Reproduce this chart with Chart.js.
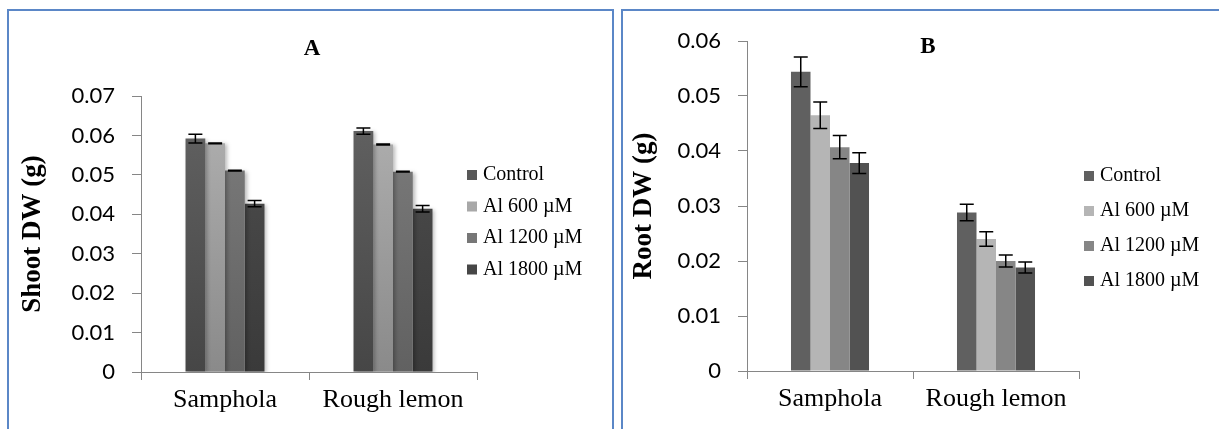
<!DOCTYPE html>
<html>
<head>
<meta charset="utf-8">
<script src="https://cdn.jsdelivr.net/npm/chart.js@4.4.1/dist/chart.umd.min.js"></script>
<style>
body { margin: 0; background: #fff; width: 1219px; height: 429px; overflow: hidden; position: relative; }
.panel { position: absolute; border: 2px solid #5b87c7; box-sizing: border-box; }
#panelA { left: 7px; top: 9px; width: 607px; height: 460px; }
#panelB { left: 621px; top: 9px; width: 640px; height: 460px; }
canvas { position: absolute; top: 0; }
#chartA { left: 0; }
#chartB { left: 614px; }
</style>
</head>
<body>
<div class="panel" id="panelA"></div>
<div class="panel" id="panelB"></div>
<canvas id="chartA" width="612" height="429"></canvas>
<canvas id="chartB" width="605" height="429"></canvas>
<script>
// categories and series
const categories = ['Samphola', 'Rough lemon'];
const seriesLabels = ['Control', 'Al 600 µM', 'Al 1200 µM', 'Al 1800 µM'];

// A - shoot dry weight (g)
const shootControl = [0.0592, 0.0611];
const shootAl600 = [0.0580, 0.0577];
const shootAl1200 = [0.0511, 0.0508];
const shootAl1800 = [0.0427, 0.0414];
const shootControlErr = [0.0011, 0.0008];
const shootAl600Err = [0.0001, 0.0001];
const shootAl1200Err = [0.0001, 0.0001];
const shootAl1800Err = [0.0008, 0.0008];
const shootTicks = [0, 0.01, 0.02, 0.03, 0.04, 0.05, 0.06, 0.07];

// B - root dry weight (g)
const rootControl = [0.0544, 0.0288];
const rootAl600 = [0.0465, 0.0240];
const rootAl1200 = [0.0407, 0.0200];
const rootAl1800 = [0.0378, 0.0188];
const rootControlErr = [0.0027, 0.0015];
const rootAl600Err = [0.0024, 0.0013];
const rootAl1200Err = [0.0021, 0.0011];
const rootAl1800Err = [0.0019, 0.0010];
const rootTicks = [0, 0.01, 0.02, 0.03, 0.04, 0.05, 0.06];

const serif = "'Liberation Serif', 'Times New Roman', serif";
const sans = "Lato, 'Liberation Sans', sans-serif";
const axisGray = '#868686';

// vertical shading for the bars of panel A
function shade(top, bottom) {
	return function (c) {
		const area = c.chart.chartArea;
		if (!area) return bottom;
		const g = c.chart.ctx.createLinearGradient(0, area.bottom, 0, area.top);
		g.addColorStop(0, bottom);
		g.addColorStop(1, top);
		return g;
	};
}

// error bars (plus optional soft shadow under the bars)
const errorBars = {
	id: 'errorBars',
	beforeDatasetsDraw(chart, args, opts) {
		const ctx = chart.ctx;
		ctx.save();
		if (opts.shadow) {
			ctx.shadowColor = 'rgba(0,0,0,0.28)';
			ctx.shadowBlur = 4;
			ctx.shadowOffsetX = 2;
			ctx.shadowOffsetY = 1;
		}
	},
	afterDatasetsDraw(chart, args, opts) {
		const ctx = chart.ctx;
		ctx.restore();
		const y = chart.scales.y;
		ctx.save();
		ctx.strokeStyle = '#000';
		ctx.lineWidth = 1.5;
		chart.data.datasets.forEach((ds, i) => {
			const meta = chart.getDatasetMeta(i);
			meta.data.forEach((bar, j) => {
				const v = ds.data[j], e = ds.errors[j];
				const top = y.getPixelForValue(v + e);
				const bot = y.getPixelForValue(v - e);
				const half = opts.cap / 2;
				ctx.beginPath();
				ctx.moveTo(bar.x, top); ctx.lineTo(bar.x, bot);
				ctx.moveTo(bar.x - half, top); ctx.lineTo(bar.x + half, top);
				ctx.moveTo(bar.x - half, bot); ctx.lineTo(bar.x + half, bot);
				ctx.stroke();
			});
		});
		ctx.restore();
	}
};

// legend drawn to the right of the plot, as in the original figure
const sideLegend = {
	id: 'sideLegend',
	afterDraw(chart, args, opts) {
		const ctx = chart.ctx;
		ctx.save();
		ctx.font = '20px ' + serif;
		ctx.textBaseline = 'middle';
		chart.data.datasets.forEach((ds, i) => {
			const yy = opts.y + i * opts.gap;
			ctx.fillStyle = ds.legendColor;
			ctx.fillRect(opts.x, yy - 5, 10, 10);
			ctx.fillStyle = '#000';
			ctx.fillText(ds.label, opts.x + 16, yy);
		});
		ctx.restore();
	}
};

// panel letter
const panelTitle = {
	id: 'panelTitle',
	afterDraw(chart, args, opts) {
		const ctx = chart.ctx;
		ctx.save();
		ctx.font = 'bold 23px ' + serif;
		ctx.textAlign = 'center';
		ctx.textBaseline = 'middle';
		ctx.fillStyle = '#000';
		ctx.fillText(opts.text, opts.x, opts.y);
		ctx.restore();
	}
};

function makeChart(id, cfg) {
	return new Chart(document.getElementById(id), {
		type: 'bar',
		data: {
			labels: categories,
			datasets: cfg.datasets
		},
		options: {
			responsive: false,
			animation: false,
			layout: { padding: cfg.padding },
			datasets: { bar: { categoryPercentage: 0.47, barPercentage: 1.0, borderWidth: 0 } },
			plugins: {
				legend: { display: false },
				tooltip: { enabled: false },
				errorBars: { cap: 14, shadow: cfg.shadow },
				sideLegend: cfg.legend,
				panelTitle: cfg.title
			},
			scales: {
				x: {
					grid: { drawOnChartArea: false, drawTicks: true, tickLength: 8, color: axisGray, offset: true },
					border: { display: true, color: axisGray, width: 1 },
					ticks: { color: '#000', font: { family: serif, size: 26 }, padding: 5 },
					afterFit: s => { s.height = cfg.xHeight; }
				},
				y: {
					min: 0,
					max: cfg.ticks[cfg.ticks.length - 1],
					afterBuildTicks: s => { s.ticks = cfg.ticks.map(v => ({ value: v })); },
					grid: { drawOnChartArea: false, drawTicks: true, tickLength: 9, color: axisGray },
					border: { display: true, color: axisGray, width: 1 },
					ticks: {
						color: '#000',
						font: { family: sans, size: 22 },
						padding: 17,
						callback: v => (v === 0 ? '0' : v.toFixed(2))
					},
					title: {
						display: true,
						text: cfg.yTitle,
						color: '#000',
						font: { family: serif, size: 27, weight: 'bold', lineHeight: 1 },
						padding: { top: cfg.titlePad, bottom: 0 }
					},
					afterFit: s => { s.width = cfg.yWidth; }
				}
			}
		},
		plugins: [errorBars, sideLegend, panelTitle]
	});
}

makeChart('chartA', {
	padding: { left: 0, top: 96, right: 135, bottom: 0 },
	xHeight: 57,
	yWidth: 141,
	titlePad: 20,
	ticks: shootTicks,
	yTitle: 'Shoot DW (g)',
	shadow: true,
	legend: { x: 467, y: 175, gap: 31.5 },
	title: { text: 'A', x: 312, y: 49 },
	datasets: [
		{ label: seriesLabels[0], data: shootControl, errors: shootControlErr, backgroundColor: shade('#636363', '#464646'), legendColor: '#585858' },
		{ label: seriesLabels[1], data: shootAl600, errors: shootAl600Err, backgroundColor: shade('#b2b2b2', '#8a8a8a'), legendColor: '#a8a8a8' },
		{ label: seriesLabels[2], data: shootAl1200, errors: shootAl1200Err, backgroundColor: shade('#7e7e7e', '#616161'), legendColor: '#777777' },
		{ label: seriesLabels[3], data: shootAl1800, errors: shootAl1800Err, backgroundColor: shade('#4f4f4f', '#3a3a3a'), legendColor: '#464646' }
	]
});

makeChart('chartB', {
	padding: { left: 0, top: 41, right: 140, bottom: 0 },
	xHeight: 58,
	yWidth: 133,
	titlePad: 17,
	ticks: rootTicks,
	yTitle: 'Root DW (g)',
	shadow: false,
	legend: { x: 470, y: 176, gap: 35 },
	title: { text: 'B', x: 314, y: 47 },
	datasets: [
		{ label: seriesLabels[0], data: rootControl, errors: rootControlErr, backgroundColor: '#606060', legendColor: '#606060' },
		{ label: seriesLabels[1], data: rootAl600, errors: rootAl600Err, backgroundColor: '#b5b5b5', legendColor: '#b5b5b5' },
		{ label: seriesLabels[2], data: rootAl1200, errors: rootAl1200Err, backgroundColor: '#868686', legendColor: '#868686' },
		{ label: seriesLabels[3], data: rootAl1800, errors: rootAl1800Err, backgroundColor: '#525252', legendColor: '#525252' }
	]
});
</script>
</body>
</html>
